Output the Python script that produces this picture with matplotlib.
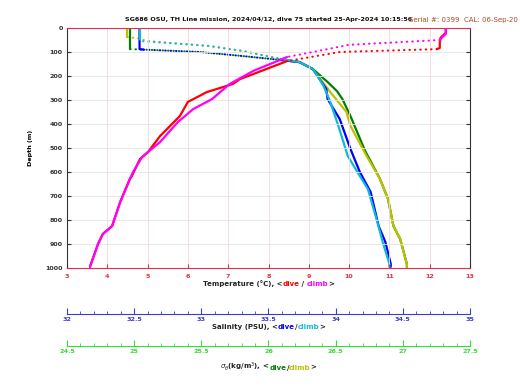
import numpy as np
import matplotlib
matplotlib.use("Agg")
import matplotlib.pyplot as plt
from matplotlib.offsetbox import TextArea, HPacker, AnchoredOffsetbox

# ---------------- data ----------------
temp_dive_depth = [0, 20, 40, 62, 83, 88, 100, 138, 192, 213, 233, 267, 308, 367, 450, 517, 546, 617, 629, 725, 825, 858, 900, 995]
temp_dive = [12.40, 12.40, 12.27, 12.25, 12.25, 12.18, 9.77, 8.46, 7.62, 7.29, 7.12, 6.47, 6.00, 5.80, 5.31, 5.01, 4.81, 4.61, 4.56, 4.32, 4.12, 3.89, 3.77, 3.57]
temp_climb_depth = [0, 25, 40, 50, 70, 94, 121, 179, 233, 296, 338, 392, 475, 538, 600, 629, 725, 825, 858, 900, 995]
temp_climb = [12.40, 12.40, 12.30, 12.25, 10.00, 9.28, 8.46, 7.62, 7.04, 6.60, 6.13, 5.75, 5.31, 4.86, 4.64, 4.56, 4.32, 4.12, 3.89, 3.77, 3.57]

sal_dive_depth = [0, 88, 90, 100, 117, 133, 142, 171, 213, 254, 296, 379, 504, 600, 683, 825, 892, 983, 995]
sal_dive = [32.54, 32.54, 32.57, 32.99, 33.31, 33.59, 33.73, 33.83, 33.88, 33.93, 33.94, 34.03, 34.11, 34.18, 34.26, 34.32, 34.37, 34.41, 34.41]
sal_climb_depth = [0, 46, 54, 75, 96, 129, 142, 171, 213, 242, 308, 408, 533, 608, 671, 808, 892, 983, 995]
sal_climb = [32.54, 32.54, 32.54, 33.06, 33.31, 33.59, 33.73, 33.83, 33.88, 33.91, 33.96, 34.02, 34.09, 34.17, 34.24, 34.31, 34.35, 34.40, 34.40]

sig_dive_depth = [0, 88, 90, 100, 117, 133, 142, 171, 225, 263, 296, 367, 513, 629, 713, 825, 879, 983, 995]
sig_dive = [24.97, 24.97, 25.07, 25.49, 25.81, 26.09, 26.23, 26.33, 26.44, 26.51, 26.55, 26.61, 26.72, 26.83, 26.89, 26.93, 26.98, 27.03, 27.03]
sig_climb_depth = [0, 38, 42, 54, 75, 96, 129, 142, 171, 267, 350, 408, 533, 629, 713, 825, 879, 983, 995]
sig_climb = [24.95, 24.95, 25.02, 25.10, 25.56, 25.81, 26.09, 26.23, 26.33, 26.46, 26.58, 26.61, 26.73, 26.83, 26.89, 26.93, 26.98, 27.03, 27.03]

# depth range where the profile is only sparsely sampled (drawn dotted)
gaps = {"temp_dive": (88, 138), "temp_climb": (50, 121),
        "sal_dive": (90, 133), "sal_climb": (46, 129),
        "sig_dive": (88, 133), "sig_climb": (38, 129)}

title = "SG686 OSU, TH Line mission, 2024/04/12, dive 75 started 25-Apr-2024 10:15:56"
serial = "Serial #: 0399  CAL: 06-Sep-20"

# ---------------- style ----------------
C_RED, C_MAG = "#ff0000", "#ff00ff"
C_BLUE, C_CYAN = "#0000ff", "#12b8d8"
C_GREEN, C_OLIVE = "#008000", "#c0c000"
C_SAL_AX, C_SIG_AX = "#3b3bd0", "#33dd33"
C_TEMP_AX = "#e0304a"
FS = 4.6

fig = plt.figure(figsize=(5.2, 3.9), dpi=100)
L, R, B, T = 67 / 520, 470 / 520, 1 - 268 / 390, 1 - 28 / 390
ax = fig.add_axes([L, B, R - L, T - B])


def draw(axis, x, d, gap, color, z):
    x = np.asarray(x); d = np.asarray(d)
    g0, g1 = gap
    up = d <= g0
    mid = (d >= g0) & (d <= g1)
    lo = d >= g1
    axis.plot(x[up], d[up], color=color, lw=1.6, zorder=z, solid_capstyle="round")
    axis.plot(x[mid], d[mid], color=color, lw=1.5, zorder=z,
              linestyle=(0, (0.2, 2.4)), dash_capstyle="round")
    axis.plot(x[lo], d[lo], color=color, lw=1.6, zorder=z, solid_capstyle="round")


# main temperature axis
ax.set_xlim(3, 13)
ax.set_ylim(1000, 0)
ax.set_xticks(range(3, 14))
ax.set_yticks(range(0, 1001, 100))
ax.tick_params(axis="x", colors=C_TEMP_AX, labelsize=FS, direction="in", length=3,
               top=True, pad=4)
ax.tick_params(axis="y", colors="#333333", labelsize=FS, direction="in", length=3,
               right=True, pad=3)
for lbl in ax.get_xticklabels() + ax.get_yticklabels():
    lbl.set_fontweight("bold")
ax.spines["bottom"].set_color(C_TEMP_AX)
ax.spines["top"].set_color(C_TEMP_AX)
ax.spines["left"].set_color("#333333")
ax.spines["right"].set_color("#333333")
for s in ax.spines.values():
    s.set_linewidth(0.8)
ax.grid(axis="x", color="#f2d6dc", lw=0.6)
ax.grid(axis="y", color="#e4e4e4", lw=0.6)
ax.set_axisbelow(True)
ax.set_ylabel("Depth (m)", fontsize=FS, fontweight="bold", labelpad=9)


def secondary(lim, ticks, labels, color, outward_px):
    a = ax.twiny()
    a.set_xlim(*lim)
    a.set_ylim(1000, 0)
    a.xaxis.set_ticks_position("bottom")
    a.spines["bottom"].set_position(("outward", outward_px * 0.72))
    for k in ("top", "left", "right"):
        a.spines[k].set_visible(False)
    a.spines["bottom"].set_color(color)
    a.spines["bottom"].set_linewidth(0.8)
    a.set_xticks(ticks)
    a.set_xticklabels(labels)
    a.set_xticks(np.arange(lim[0], lim[1] + 0.01, 0.1), minor=True)
    a.tick_params(axis="x", which="major", colors=color, labelsize=FS, direction="in",
                  length=4, pad=2.5)
    a.tick_params(axis="x", which="minor", colors=color, direction="in", length=2)
    for lbl in a.get_xticklabels():
        lbl.set_fontweight("bold")
    a.patch.set_visible(False)
    return a


axS = secondary((32, 35), np.arange(32, 35.01, 0.5),
                ["32", "32.5", "33", "33.5", "34", "34.5", "35"], C_SAL_AX, 46)
axD = secondary((24.5, 27.5), np.arange(24.5, 27.51, 0.5),
                ["24.5", "25", "25.5", "26", "26.5", "27", "27.5"], C_SIG_AX, 78)

# profiles
draw(axS, sal_dive, sal_dive_depth, gaps["sal_dive"], C_BLUE, 3)
draw(axS, sal_climb, sal_climb_depth, gaps["sal_climb"], C_CYAN, 4)
draw(axD, sig_dive, sig_dive_depth, gaps["sig_dive"], C_GREEN, 3)
draw(axD, sig_climb, sig_climb_depth, gaps["sig_climb"], C_OLIVE, 4)
draw(ax, temp_dive, temp_dive_depth, gaps["temp_dive"], C_RED, 3)
draw(ax, temp_climb, temp_climb_depth, gaps["temp_climb"], C_MAG, 4)
ax.set_zorder(3); ax.patch.set_visible(False)
axS.set_zorder(2); axD.set_zorder(1)


def colored_label(parts, x, y):
    areas = [TextArea(t, textprops=dict(color=c, fontsize=FS + 0.4, fontweight="bold"))
             for t, c in parts]
    box = HPacker(children=areas, align="baseline", pad=0, sep=0)
    ab = AnchoredOffsetbox(loc="center", child=box, pad=0, frameon=False,
                           bbox_to_anchor=(x, y), bbox_transform=fig.transFigure,
                           borderpad=0)
    fig.add_artist(ab)


cx = (L + R) / 2
colored_label([("Temperature (°C), <", "#222222"), ("dive", C_RED), (" / ", "#222222"),
               ("climb", C_MAG), (">", "#222222")], cx, 1 - 284 / 390)
colored_label([("Salinity (PSU), <", "#222222"), ("dive", C_BLUE), ("/", "#222222"),
               ("climb", C_CYAN), (">", "#222222")], cx, 1 - 327 / 390)
colored_label([(r"$\sigma_\theta$(kg/m$^3$), <", "#222222"), ("dive", C_GREEN), ("/", "#222222"),
               ("climb", C_OLIVE), (">", "#222222")], cx, 1 - 367 / 390)

fig.text(cx, 1 - 20 / 390, title, ha="center", va="center", fontsize=FS,
         fontweight="bold", color="#111111")
fig.text(0.995, 1 - 20 / 390, serial, ha="right", va="center", fontsize=FS + 0.4,
         color="#b04a20")

fig.savefig("out.png", dpi=100)
